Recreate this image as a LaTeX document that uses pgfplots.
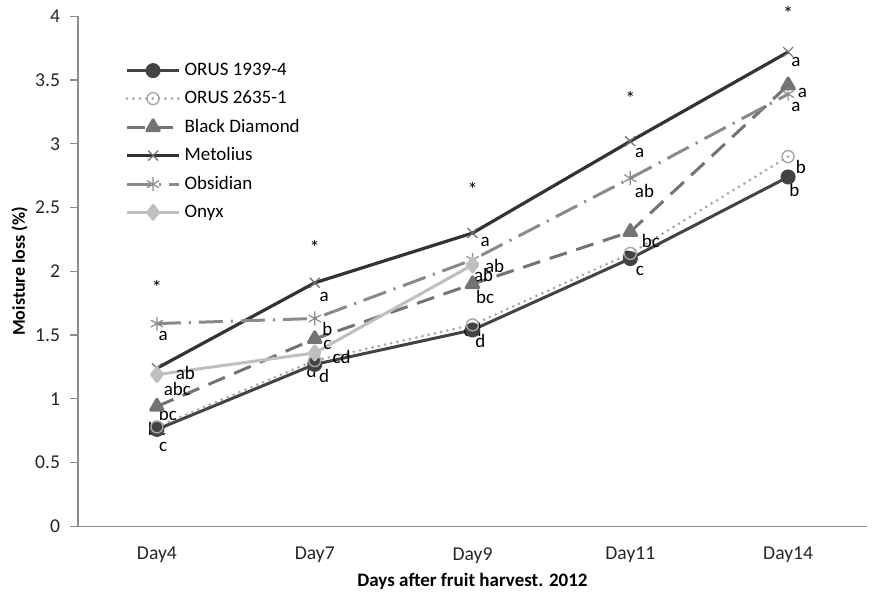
\documentclass[border=0pt]{standalone}
\usepackage{fontspec}
\setmainfont{Carlito}
\usepackage{pgfplots}
\pgfplotsset{compat=1.18}

\definecolor{cOrusA}{HTML}{434343}
\definecolor{cOrusB}{HTML}{A6A6A6}
\definecolor{cBlack}{HTML}{737373}
\definecolor{cMeto}{HTML}{333333}
\definecolor{cObsi}{HTML}{8A8A8A}
\definecolor{cOnyx}{HTML}{BFBFBF}
\definecolor{cAxis}{HTML}{8C8C8C}

\begin{document}
\begin{tikzpicture}
\begin{axis}[
  scale only axis,
  width=394.5pt, height=255pt,
  xmin=-0.5, xmax=4.5,
  ymin=0, ymax=4,
  xtick={0,1,2,3,4},
  xticklabels={Day4, Day7, Day9, Day11, Day14},
  major x tick style={draw=none},
  extra x ticks={-0.5,0.5,1.5,2.5,3.5,4.5},
  extra x tick labels={},
  extra x tick style={tick style={draw=cAxis, line width=0.6pt}, major tick length=4pt, tick align=outside},
  xticklabel style={yshift=-3pt},
  ytick={0,0.5,...,4},
  yticklabel style={/pgf/number format/fixed, /pgf/number format/precision=1, xshift=-1.5pt},
  /pgf/number format/assume math mode=true,
  ytick style={draw=cAxis, line width=0.6pt},
  major tick length=4pt,
  tick align=outside,
  axis lines*=left,
  axis line style={draw=cAxis, line width=0.7pt},
  tick label style={font=\fontsize{9.8}{11}\selectfont, text=black!85},
  xlabel={\textbf{Days after fruit harvest. 2012}},
  ylabel={\textbf{Moisture loss (\%)}},
  xlabel style={font=\fontsize{9.5}{11}\selectfont, at={(axis description cs:0.5,-0.108)}, anchor=center},
  ylabel style={font=\fontsize{9}{11}\selectfont, at={(axis description cs:-0.074,0.5)}, anchor=center},
  clip=false,
  legend style={at={(0.052,0.925)}, anchor=north west, draw=none, fill=none,
    font=\fontsize{9.5}{15}\selectfont, row sep=2.2pt, cells={anchor=west}},
  legend image code/.code={
    \draw[mark repeat=2, mark phase=2, #1] plot coordinates {(0pt,0pt) (13pt,0pt) (26pt,0pt)};
  },
  every axis plot/.append style={line join=round},
]
% ORUS 1939-4
\addplot[color=cOrusA, line width=1.5pt, mark=*, mark size=3pt,
  mark options={solid, fill=cOrusA}] coordinates {
  (0,0.76) (1,1.27) (2,1.54) (3,2.10) (4,2.74)};
% ORUS 2635-1
\addplot[color=cOrusB, line width=1.5pt, line cap=round, dash pattern=on 0pt off 3.2pt,
  mark=o, mark size=3pt, mark options={solid, line width=0.7pt, fill=white}] coordinates {
  (0,0.78) (1,1.30) (2,1.58) (3,2.14) (4,2.90)};
% Black Diamond
\addplot[color=cBlack, line width=1.5pt, dash pattern=on 9pt off 5pt,
  mark=triangle*, mark size=3.6pt, mark options={solid, fill=cBlack}] coordinates {
  (0,0.94) (1,1.47) (2,1.90) (3,2.31) (4,3.46)};
% Metolius
\addplot[color=cMeto, line width=1.6pt,
  mark=x, mark size=3.5pt, mark options={solid, line width=0.6pt, color=cMeto!70}] coordinates {
  (0,1.24) (1,1.91) (2,2.30) (3,3.02) (4,3.72)};
% Obsidian
\addplot[color=cObsi, line width=1.5pt, dash pattern=on 12pt off 4pt on 1pt off 4pt,
  mark=asterisk, mark size=3.5pt, mark options={solid, line width=0.6pt}] coordinates {
  (0,1.59) (1,1.63) (2,2.09) (3,2.73) (4,3.39)};
% Onyx
\addplot[color=cOnyx, line width=1.5pt,
  mark=diamond*, mark size=3.5pt, mark options={solid, fill=cOnyx}] coordinates {
  (0,1.19) (1,1.36) (2,2.05)};
\legend{ORUS 1939-4, ORUS 2635-1, Black Diamond, Metolius, Obsidian, Onyx}

% significance stars
\begin{scope}[every node/.style={font=\fontsize{10}{10}\selectfont}]
\node at (axis cs:0,1.87) {*};
\node at (axis cs:1,2.19) {*};
\node at (axis cs:2,2.64) {*};
\node at (axis cs:3,3.36) {*};
\node at (axis cs:4,4.02) {*};
\end{scope}

% letter groups
\begin{scope}[every node/.style={font=\fontsize{9.5}{10}\selectfont, inner sep=0pt}]
\node at (axis cs:0.04,1.49) {a};
\node at (axis cs:0.18,1.20) {ab};
\node at (axis cs:0.13,1.08) {abc};
\node at (axis cs:0.07,0.88) {bc};
\node at (axis cs:0.00,0.76) {bc};
\node at (axis cs:0.04,0.62) {c};
\node at (axis cs:1.06,1.80) {a};
\node at (axis cs:1.08,1.55) {b};
\node at (axis cs:1.08,1.42) {c};
\node at (axis cs:1.17,1.33) {cd};
\node at (axis cs:0.98,1.22) {d};
\node at (axis cs:1.06,1.18) {d};
\node at (axis cs:2.08,2.23) {a};
\node at (axis cs:2.14,2.04) {ab};
\node at (axis cs:2.07,1.97) {ab};
\node at (axis cs:2.08,1.80) {bc};
\node at (axis cs:2.00,1.54) {cd};
\node at (axis cs:2.05,1.45) {d};
\node at (axis cs:3.06,2.93) {a};
\node at (axis cs:3.09,2.63) {ab};
\node at (axis cs:3.13,2.24) {bc};
\node at (axis cs:2.98,2.12) {c};
\node at (axis cs:3.06,2.00) {c};
\node at (axis cs:4.05,3.64) {a};
\node at (axis cs:4.09,3.40) {a};
\node at (axis cs:4.05,3.29) {a};
\node at (axis cs:4.08,2.82) {b};
\node at (axis cs:4.04,2.64) {b};
\end{scope}

% page margins as in the reference
\path (axis description cs:-0.0989,-0.1275) rectangle (axis description cs:1.0114,1.0294);
\end{axis}
\end{tikzpicture}
\end{document}
